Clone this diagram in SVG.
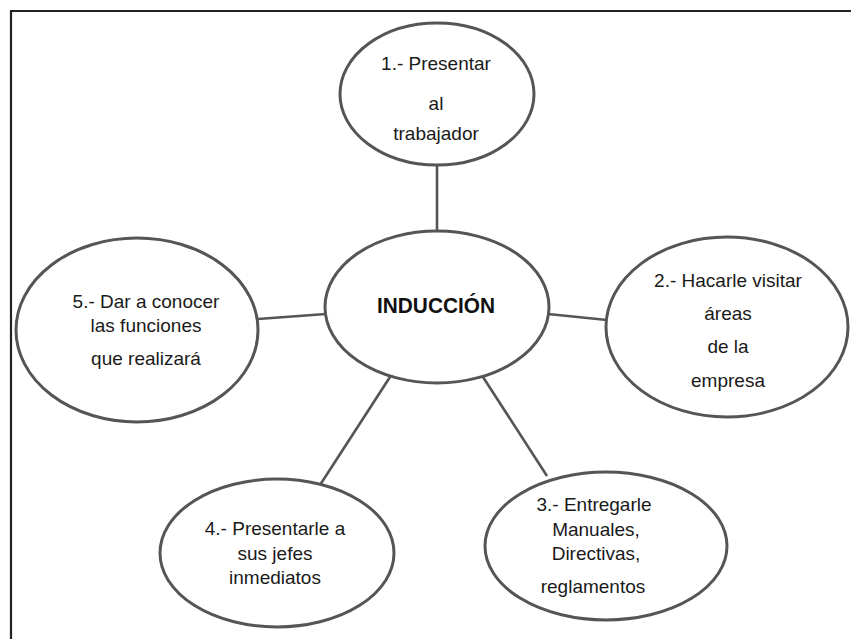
<svg xmlns="http://www.w3.org/2000/svg" width="851" height="639" viewBox="0 0 851 639">
  <style>
    .node ellipse { fill: #ffffff; stroke: #555555; stroke-width: 3; }
    .lbl { font-family: "Liberation Sans", Arial, sans-serif; font-size: 19px; fill: #1a1a1a; text-anchor: middle; }
    .title { font-family: "Liberation Sans", Arial, sans-serif; font-size: 22px; font-weight: bold; fill: #111111; text-anchor: middle; }
    .link { stroke: #555555; stroke-width: 2.6; fill: none; }
  </style>
  <rect width="851" height="639" fill="#ffffff"/>
  <!-- frame: top and left rules -->
  <path d="M11,639 V11 H851" fill="none" stroke="#222222" stroke-width="2.2"/>

  <g id="connectors">
    <line class="link" x1="437" y1="165" x2="437" y2="232"/>
    <line class="link" x1="258" y1="319" x2="326" y2="314"/>
    <line class="link" x1="548" y1="314" x2="607" y2="320"/>
    <line class="link" x1="390" y1="377" x2="320" y2="485"/>
    <line class="link" x1="483" y1="377" x2="547" y2="476"/>
  </g>

  <g id="induccion" class="node">
    <ellipse cx="437" cy="307" rx="112" ry="76"/>
    <text class="title" x="436" y="313" textLength="118" lengthAdjust="spacingAndGlyphs">INDUCCIÓN</text>
  </g>

  <g id="paso1" class="node">
    <ellipse cx="437" cy="94" rx="97" ry="71"/>
    <text class="lbl" x="436" y="70">1.- Presentar</text>
    <text class="lbl" x="436" y="110">al</text>
    <text class="lbl" x="436" y="140">trabajador</text>
  </g>

  <g id="paso2" class="node">
    <ellipse cx="727" cy="327" rx="121" ry="90"/>
    <text class="lbl" x="728" y="287">2.- Hacarle visitar</text>
    <text class="lbl" x="728" y="320">áreas</text>
    <text class="lbl" x="728" y="353">de la</text>
    <text class="lbl" x="728" y="387">empresa</text>
  </g>

  <g id="paso3" class="node">
    <ellipse cx="606" cy="546" rx="121" ry="74"/>
    <text class="lbl" x="594" y="511">3.- Entregarle</text>
    <text class="lbl" x="596" y="536">Manuales,</text>
    <text class="lbl" x="596" y="560">Directivas,</text>
    <text class="lbl" x="593" y="593">reglamentos</text>
  </g>

  <g id="paso4" class="node">
    <ellipse cx="277" cy="553" rx="117" ry="74"/>
    <text class="lbl" x="275" y="535">4.- Presentarle a</text>
    <text class="lbl" x="275" y="560">sus jefes</text>
    <text class="lbl" x="275" y="584">inmediatos</text>
  </g>

  <g id="paso5" class="node">
    <ellipse cx="137" cy="330" rx="121" ry="92"/>
    <text class="lbl" x="146" y="308">5.- Dar a conocer</text>
    <text class="lbl" x="146" y="332">las funciones</text>
    <text class="lbl" x="146" y="365">que realizará</text>
  </g>
</svg>
